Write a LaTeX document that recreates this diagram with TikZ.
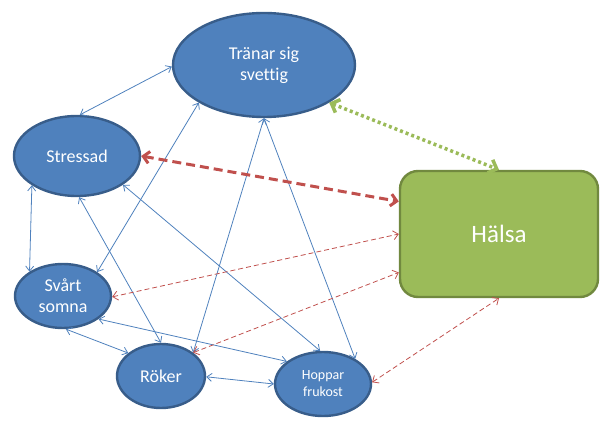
\documentclass[tikz,border=0pt]{standalone}
\usepackage{fontspec}
\setmainfont[Ligatures=NoCommon]{Carlito}
\usetikzlibrary{shapes.geometric,arrows.meta}
\definecolor{bfill}{HTML}{4F81BD}
\definecolor{bline}{HTML}{385D8A}
\definecolor{gfill}{HTML}{9BBB59}
\definecolor{gline}{HTML}{71893F}
\definecolor{rline}{HTML}{C0504D}
\begin{document}
\begin{tikzpicture}[x=1pt,y=-1pt,
  bub/.style={ellipse,draw=bline,fill=bfill,line width=2.4pt,inner sep=0pt,text=white,align=center,font=\fontsize{18}{21}\selectfont},
  bline/.style={draw=bfill,line width=0.8pt,{Straight Barb[length=5pt,width=8pt]}-{Straight Barb[length=5pt,width=8pt]}},
  rthin/.style={draw=rline,line width=0.8pt,dash pattern=on 5pt off 3pt,{Straight Barb[length=5pt,width=9pt]}-{Straight Barb[length=5pt,width=9pt]}},
  rthick/.style={draw=rline,line width=3pt,dash pattern=on 9pt off 5pt,{Straight Barb[length=6pt,width=12pt]}-{Straight Barb[length=6pt,width=12pt]}},
  gdot/.style={draw=gfill,line width=3.5pt,dash pattern=on 3pt off 3pt,{Straight Barb[length=7pt,width=14pt]}-{Straight Barb[length=7pt,width=14pt]}}]
\useasboundingbox (0,0) rectangle (612,427);
\node[bub,minimum width=182pt,minimum height=104pt] (tr) at (264,65) {Tränar sig\\svettig};
\node[bub,minimum width=126pt,minimum height=80pt] (st) at (77,156) {Stressad};
\node[bub,minimum width=96pt,minimum height=64pt] (sv) at (63,296) {Svårt\\somna};
\node[bub,minimum width=88pt,minimum height=64pt] (ro) at (161,376) {Röker};
\node[bub,minimum width=96pt,minimum height=64pt,font=\fontsize{14}{17}\selectfont] (ho) at (323,384) {Hoppar\\frukost};
\node[draw=gline,fill=gfill,line width=2.4pt,rounded corners=18pt,minimum width=198pt,minimum height=126pt,inner sep=0pt,text=white,font=\fontsize{25}{29}\selectfont] (ha) at (499,234) {Hälsa};
% blue connectors
\draw[bline] (tr.181) -- (st.86);
\draw[bline] (st.213) -- (sv.144);
\draw[bline] (st.273) -- (ro.90);
\draw[bline] (st.328) -- (ho.95);
\draw[bline] (tr.210) -- (sv.35);
\draw[bline] (tr.270) -- (ro.36);
\draw[bline] (tr.270) -- (ho.38);
\draw[bline] (sv.275) -- (ro.145);
\draw[bline] (sv.327) -- (ho.148);
\draw[bline] (ro.359) -- (ho.180);
% red thin dashed
\draw[rthin] (sv.359) -- (ha.180);
\draw[rthin] (ro.36) -- (ha.201.5);
\draw[rthin] (ho.2) -- (ha.270);
% thick
\draw[rthick] (st.0) -- (ha.162.6);
\draw[gdot] (tr.330) -- (ha.90);
\end{tikzpicture}
\end{document}
